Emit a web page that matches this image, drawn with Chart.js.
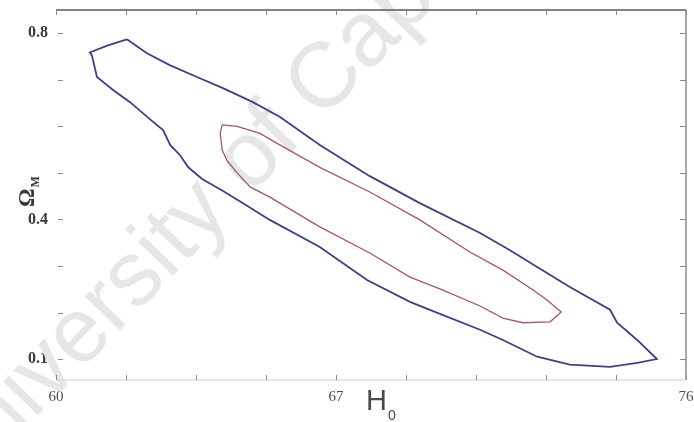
<!DOCTYPE html>
<html>
<head>
<meta charset="utf-8">
<script src="https://cdn.jsdelivr.net/npm/chart.js@4.4.1/dist/chart.umd.min.js"></script>
<style>
  html, body { margin: 0; padding: 0; background: #fff; }
  #contours { display: block; }
</style>
</head>
<body>
<canvas id="contours" width="694" height="422"></canvas>
<script>
// tick positions and labels
const xTickValues = [60, 61.78, 63.56, 65.33, 67.11, 68.89, 70.67, 72.44, 74.22, 76];
const xTickLabels = ["60", "", "", "", "67", "", "", "", "", "76"];
const yTickValues = [0.1, 0.2, 0.3, 0.4, 0.5, 0.6, 0.7, 0.8];
const yTickLabels = ["0.1", "", "", "0.4", "", "", "", "0.8"];

// outer (blue) confidence contour, H0 vs Omega_M
const outerH0 = [61.80, 62.31, 62.90, 63.58, 64.24, 65.00, 65.69, 66.70, 67.97, 69.24,
  70.77, 71.53, 72.22, 73.05, 74.07, 74.25, 74.76, 75.26, 74.76, 74.07,
  73.05, 72.22, 71.35, 70.77, 69.75, 68.99, 67.90, 66.70, 65.43, 64.75,
  64.22, 63.71, 63.36, 63.15, 62.90, 62.72, 62.39, 61.88, 61.45, 61.04,
  60.91, 60.86, 61.32, 61.80];
const outerOmega = [0.787, 0.757, 0.731, 0.706, 0.682, 0.652, 0.620, 0.560, 0.493, 0.435,
  0.371, 0.334, 0.298, 0.255, 0.206, 0.178, 0.141, 0.100, 0.092, 0.083,
  0.088, 0.105, 0.141, 0.163, 0.197, 0.223, 0.270, 0.341, 0.399, 0.435,
  0.462, 0.487, 0.512, 0.538, 0.560, 0.592, 0.615, 0.652, 0.678, 0.706,
  0.753, 0.759, 0.774, 0.787];

// inner (red) confidence contour
const innerH0 = [64.22, 64.60, 65.18, 65.56, 66.70, 67.97, 69.24, 70.51, 71.35, 72.11,
  72.47, 72.83, 72.55, 71.86, 71.35, 70.77, 69.75, 68.99, 67.97, 66.70,
  65.43, 64.93, 64.60, 64.34, 64.22, 64.17, 64.22];
const innerOmega = [0.603, 0.600, 0.585, 0.566, 0.512, 0.459, 0.399, 0.330, 0.291, 0.249,
  0.227, 0.201, 0.180, 0.178, 0.188, 0.214, 0.251, 0.276, 0.328, 0.384,
  0.448, 0.470, 0.500, 0.527, 0.549, 0.585, 0.603];

function toPoints(xs, ys) {
  return xs.map((x, i) => ({ x: x, y: ys[i] }));
}

// keep the plot box fixed: no extra room for edge labels
function pinScale(s, size) {
  if (s.isHorizontal()) {
    s.height = size;
  } else {
    s.width = size;
  }
  s.paddingTop = 0;
  s.paddingBottom = 0;
  s.paddingLeft = 0;
  s.paddingRight = 0;
}

// faint diagonal watermark behind the contours
const watermark = {
  id: "watermark",
  beforeDatasetsDraw(chart) {
    const ctx = chart.ctx;
    ctx.save();
    ctx.translate(48, 405);
    ctx.rotate(-46 * Math.PI / 180);
    ctx.font = '92px "Liberation Sans"';
    ctx.fillStyle = "#e6e6e6";
    ctx.textBaseline = "alphabetic";
    const pre = ctx.measureText("Uni").width;
    ctx.fillText("University of Cape Town", -pre, 0);
    ctx.restore();
  }
};

// box edges, inward tick marks and the axis symbols
const frame = {
  id: "frame",
  afterDraw(chart) {
    const ctx = chart.ctx;
    const a = chart.chartArea;
    const xs = chart.scales.x;
    const ys = chart.scales.y;
    ctx.save();

    ctx.lineWidth = 1.5;
    ctx.strokeStyle = "#5a5a5a";
    ctx.beginPath();
    ctx.moveTo(a.left, a.top);
    ctx.lineTo(a.right, a.top);
    ctx.stroke();

    ctx.lineWidth = 1.2;
    ctx.strokeStyle = "#707070";
    ctx.beginPath();
    ctx.moveTo(a.right, a.top);
    ctx.lineTo(a.right, a.bottom);
    ctx.stroke();

    ctx.strokeStyle = "#d0d0d0";
    ctx.beginPath();
    ctx.moveTo(a.left, a.bottom);
    ctx.lineTo(a.right, a.bottom);
    ctx.stroke();

    ctx.lineWidth = 1;
    ctx.strokeStyle = "#8a8a8a";
    ctx.beginPath();
    xTickValues.forEach(v => {
      const px = Math.round(xs.getPixelForValue(v)) + 0.5;
      ctx.moveTo(px, a.top);
      ctx.lineTo(px, a.top + 5);
      ctx.moveTo(px, a.bottom);
      ctx.lineTo(px, a.bottom - 5);
    });
    yTickValues.forEach(v => {
      const py = Math.round(ys.getPixelForValue(v)) + 0.5;
      ctx.moveTo(a.left + 2, py);
      ctx.lineTo(a.left + 7, py);
      ctx.moveTo(a.right, py);
      ctx.lineTo(a.right - 6, py);
    });
    ctx.stroke();

    // H0 next to the "67" label
    const hx = xs.getPixelForValue(xTickValues[4]) + 30;
    ctx.fillStyle = "#4a4a4a";
    ctx.textBaseline = "alphabetic";
    ctx.textAlign = "left";
    ctx.font = '29px "Liberation Sans"';
    ctx.fillText("H", hx, 410);
    const hw = ctx.measureText("H").width;
    ctx.font = '14px "Liberation Sans"';
    ctx.fillText("0", hx + hw + 1, 420);

    // Omega_M, rotated
    ctx.translate(34, 207);
    ctx.rotate(-Math.PI / 2);
    ctx.fillStyle = "#3a3a3a";
    ctx.font = 'bold 23px "Liberation Serif"';
    ctx.fillText("\u03A9", 0, 0);
    const ow = ctx.measureText("\u03A9").width;
    ctx.font = 'bold 12px "Liberation Serif"';
    ctx.fillText("M", ow + 1, 5);
    ctx.restore();
  }
};

function initChart() {
  const c = document.getElementById("contours").getContext("2d");
  new Chart(c, {
    type: "scatter",
    data: {
      datasets: [{
        label: "outer",
        data: toPoints(outerH0, outerOmega),
        showLine: true,
        fill: false,
        borderColor: "#3d4183",
        borderWidth: 1.8,
        pointRadius: 0,
        tension: 0
      }, {
        label: "inner",
        data: toPoints(innerH0, innerOmega),
        showLine: true,
        fill: false,
        borderColor: "#a4595c",
        borderWidth: 1.3,
        pointRadius: 0,
        tension: 0
      }]
    },
    options: {
      responsive: false,
      animation: false,
      layout: {
        padding: { top: 10, right: 8, left: 0, bottom: 0 }
      },
      plugins: {
        legend: { display: false },
        tooltip: { enabled: false }
      },
      scales: {
        x: {
          type: "linear",
          min: 60,
          max: 76,
          afterBuildTicks: s => { s.ticks = xTickValues.map(v => ({ value: v })); },
          afterFit: s => pinScale(s, 42),
          grid: { display: false, drawTicks: false },
          border: { display: false },
          ticks: {
            autoSkip: false,
            maxRotation: 0,
            padding: 8,
            color: "#505050",
            font: { family: "Liberation Serif", size: 15 },
            callback: (v, i) => xTickLabels[i]
          }
        },
        y: {
          type: "linear",
          min: 0.055,
          max: 0.85,
          afterBuildTicks: s => { s.ticks = yTickValues.map(v => ({ value: v })); },
          afterFit: s => pinScale(s, 56),
          grid: { display: false, drawTicks: false },
          border: { display: false },
          ticks: {
            autoSkip: false,
            padding: 8,
            color: "#3a3a3a",
            font: { family: "Liberation Serif", size: 16, weight: "bold" },
            callback: (v, i) => yTickLabels[i]
          }
        }
      }
    },
    plugins: [watermark, frame]
  });
}

window.onload = initChart;
</script>
</body>
</html>
